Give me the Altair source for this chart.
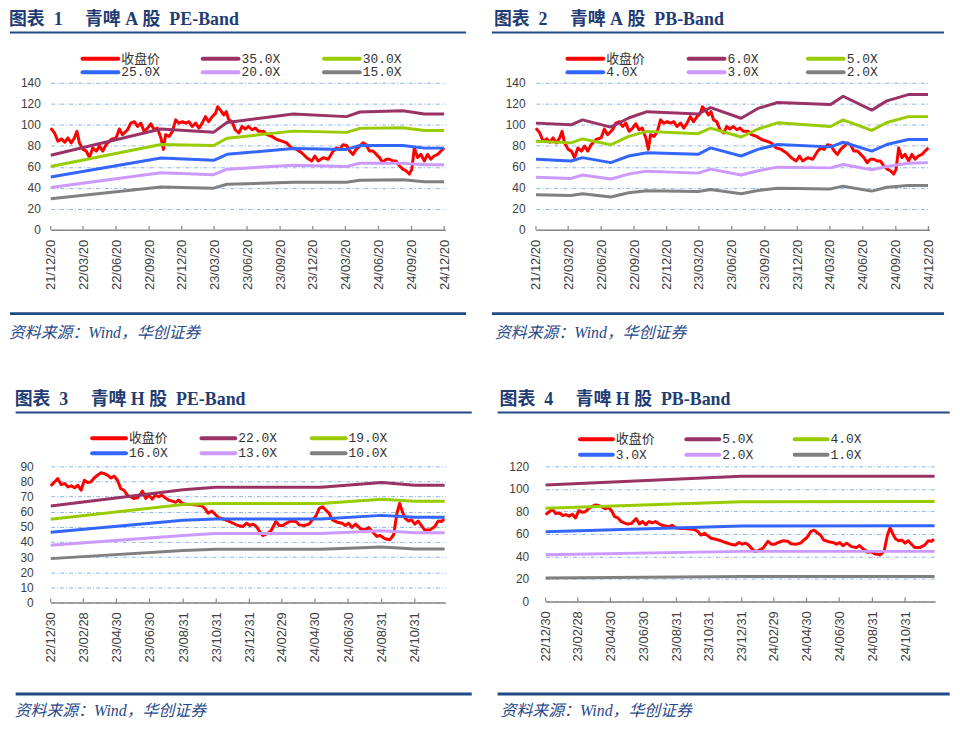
import altair as alt
import pandas as pd

# ---------------- A shares (panels 1 & 2) ----------------
a_start = "2021-12-20"
a_end = "2024-12-23"
a_ticks = ["2021-12-20", "2022-03-20", "2022-06-20", "2022-09-20", "2022-12-20",
           "2023-03-20", "2023-06-20", "2023-09-20", "2023-12-20", "2024-03-20",
           "2024-06-20", "2024-09-20", "2024-12-20"]

# closing price: days after a_start, value
a_price_day = [0, 11, 20, 30, 39, 48, 57, 66, 73, 80,
               90, 99, 108, 117, 127, 136, 145, 154, 168, 182,
               191, 200, 214, 223, 233, 242, 251, 260, 270, 279,
               288, 297, 307, 314, 320, 330, 339, 348, 357, 367,
               376, 385, 394, 404, 413, 422, 431, 440, 450, 459,
               465, 473, 482, 489, 496, 505, 514, 524, 533, 542,
               551, 561, 570, 579, 593, 602, 616, 630, 644, 657,
               671, 685, 699, 713, 727, 736, 745, 759, 773, 787,
               796, 805, 814, 824, 833, 842, 851, 861, 870, 879,
               888, 898, 907, 916, 925, 934, 944, 953, 962, 971,
               981, 990, 999, 1006, 1013, 1022, 1031, 1041, 1050, 1059,
               1068, 1078, 1087, 1096]
a_price = [96.9, 92, 84.4, 86.6, 83.4, 87.5, 82.8, 87.5, 93.8, 82.8,
           76.6, 75, 68.75, 78, 75, 79.7, 75, 81, 86, 87.5,
           96, 90.6, 95.3, 101.6, 103, 98.4, 101.6, 93.8, 96.9, 101,
           95.3, 96.9, 87.5, 76.6, 90.6, 89, 93.8, 104.7, 101.6, 103,
           101.6, 103, 98.4, 101.6, 96.9, 101.6, 107.8, 103, 107.8, 110.9,
           117.2, 114, 109.4, 112.5, 104.7, 103, 95.3, 92.2, 98.4, 96,
           98.4, 95.3, 96.9, 93.8, 93.8, 90.6, 89, 86, 84.4, 82.8,
           78, 76.6, 73.4, 68.75, 65.6, 70.3, 65.6, 68.75, 67.2, 75,
           78, 76.6, 81, 80.3, 75, 71.9, 76.6, 79.7, 82.8, 81,
           75, 75, 71.9, 68.75, 64, 67.2, 67.2, 65.6, 65.6, 61,
           57.8, 56.25, 53.1, 57.8, 78, 68.75, 71.9, 65.6, 71.9, 67.2,
           70.3, 71.9, 75, 78]

# PE bands
a_pe_day = [0, 307, 454, 491, 676, 824, 861, 981, 1041, 1096]
a_pe_35 = [71, 96, 93, 102.2, 110.3, 107.8, 112.2, 113.4, 110.3, 110.3]
a_pe_30 = [60.3, 81.25, 80.3, 87.2, 94, 92.8, 96.6, 97.2, 94.5, 94.5]
a_pe_25 = [50.3, 68.4, 66.25, 71.9, 77.5, 76.6, 80.3, 80.3, 77.8, 77.8]
a_pe_20 = [40.3, 54.4, 52.5, 57.8, 61.6, 60.3, 63.4, 63.4, 61.9, 61.9]
a_pe_15 = [29.7, 40.9, 39.7, 43.4, 45.3, 45.3, 47.2, 47.8, 45.9, 45.9]

# PB bands
a_pb_day = [0, 98, 130, 209, 259, 310, 453, 488, 573, 620, 675, 823, 858, 938, 980, 1040, 1095]
a_pb_6 = [101.6, 100, 104.7, 97.8, 106.5, 112.5, 110.3, 116.3, 106.25, 115.6, 121.25, 119.4, 127.2, 114, 122.8, 128.75, 128.75]
a_pb_5 = [84.4, 82.8, 86.6, 81, 89, 93.75, 91.6, 96.9, 88.4, 96, 101.9, 98.4, 104.7, 94.7, 102.2, 107.8, 107.8]
a_pb_4 = [67.2, 65.6, 68.75, 64, 70.3, 73.4, 71.9, 78, 70.3, 76.6, 81.25, 79, 83.4, 75, 81.25, 86, 86]
a_pb_3 = [50, 49, 52.2, 48.4, 53.1, 55.9, 54, 57.8, 52.2, 56.25, 59.7, 59, 62.2, 57.2, 60.3, 63.4, 64]
a_pb_2 = [33.4, 32.8, 34.4, 31.25, 35.3, 37.2, 36.6, 38.4, 34.4, 37.5, 39.7, 39, 41.6, 36.9, 40.6, 42.2, 42.2]

# ---------------- H shares (panels 3 & 4) ----------------
h_start = "2022-12-30"
h_end = "2024-12-26"
h_ticks = ["2022-12-30", "2023-02-28", "2023-04-30", "2023-06-30", "2023-08-31",
           "2023-10-31", "2023-12-31", "2024-02-29", "2024-04-30", "2024-06-30",
           "2024-08-31", "2024-10-31"]

h_price_day = [0, 7, 13, 19, 26, 32, 38, 44, 50, 56,
               62, 68, 74, 80, 86, 93, 99, 105, 111, 117,
               123, 129, 135, 141, 147, 153, 160, 166, 169, 175,
               181, 187, 193, 199, 205, 211, 217, 224, 230, 236,
               242, 251, 260, 269, 278, 284, 290, 297, 303, 309,
               318, 327, 336, 345, 354, 361, 367, 373, 379, 385,
               391, 397, 406, 415, 421, 428, 434, 443, 452, 458,
               467, 476, 482, 488, 495, 501, 507, 513, 519, 528,
               537, 543, 549, 555, 562, 571, 580, 586, 595, 601,
               607, 616, 625, 632, 638, 643, 647, 653, 659, 665,
               671, 677, 683, 689, 699, 708, 714, 720, 725]
h_price = [77.1, 79.7, 81.9, 78, 78.6, 76.4, 77.1, 75.8, 77.5, 74.2,
           80.8, 79.3, 79.7, 82.3, 84.1, 85.8, 85.2, 84.1, 82.3, 83.6,
           80.8, 75.3, 74.2, 71, 69.9, 68.8, 69.2, 72, 73.6, 68.8,
           71, 68.3, 71, 69.9, 71, 69.2, 67.7, 67, 66.2, 67.7,
           65.5, 64.8, 64.8, 64.4, 64, 62.2, 59, 60.5, 58.3, 56.1,
           55.2, 53.9, 52.4, 50.9, 50.2, 52.4, 50.9, 51.8, 50.2, 46.9,
           44.3, 45.2, 47.4, 53.5, 50.9, 50.9, 52.4, 53.9, 53.5, 51.3,
           50.9, 51.8, 54.6, 56.8, 62.2, 63.3, 61.1, 59, 54.6, 53.1,
           52.4, 50.9, 52.4, 49.6, 51.8, 48.7, 48, 49.6, 45.9, 43.7,
           44.3, 42.1, 41.5, 44.8, 59, 65.5, 61.1, 55.7, 53.9, 54.6,
           51.8, 53.9, 50.9, 48, 48, 50.2, 53.9, 53.5, 55.2]

h_pe_day = [0, 244, 304, 498, 610, 671, 726]
h_pe_22 = [63.75, 74.5, 76.2, 76.2, 79.3, 77.5, 77.5]
h_pe_19 = [55, 64.8, 65.5, 65.5, 68.3, 67, 67]
h_pe_16 = [46.5, 54.4, 55.2, 55.2, 57.6, 56.3, 56.3]
h_pe_13 = [37.8, 44.3, 45.6, 45.6, 47.4, 46.1, 46.1]
h_pe_10 = [29, 34.3, 35.2, 35.2, 36.7, 35.4, 35.4]

h_pb_day = [0, 366, 726]
h_pb_5 = [103.5, 111.2, 111.2]
h_pb_4 = [82.9, 88.5, 88.8]
h_pb_3 = [62, 67, 67.3]
h_pb_2 = [41.6, 44.5, 44.5]
h_pb_1 = [20.9, 22.1, 22.1]

names_1 = ["收盘价", "35.0X", "30.0X", "25.0X", "20.0X", "15.0X"]
names_2 = ["收盘价", "6.0X", "5.0X", "4.0X", "3.0X", "2.0X"]
names_3 = ["收盘价", "22.0X", "19.0X", "16.0X", "13.0X", "10.0X"]
names_4 = ["收盘价", "5.0X", "4.0X", "3.0X", "2.0X", "1.0X"]

titles = ["图表\u00a0\u00a01\u00a0\u00a0\u00a0\u00a0\u00a0青啤\u00a0A\u00a0股\u00a0\u00a0PE-Band",
          "图表\u00a0\u00a02\u00a0\u00a0\u00a0\u00a0\u00a0青啤\u00a0A\u00a0股\u00a0\u00a0PB-Band",
          "图表\u00a0\u00a03\u00a0\u00a0\u00a0\u00a0\u00a0青啤\u00a0H\u00a0股\u00a0\u00a0PE-Band",
          "图表\u00a0\u00a04\u00a0\u00a0\u00a0\u00a0\u00a0青啤\u00a0H\u00a0股\u00a0\u00a0PB-Band"]
source_text = "资料来源：Wind，华创证券"

colors = ["#FF0000", "#993366", "#99CC00", "#3366FF", "#CC99FF", "#808080"]

NAVY = "#1F3C73"
RULE = "#1F4A86"
SRC = "#27498A"
TITLE_FONT = "Liberation Serif, Noto Sans CJK SC"
LEG_FONT = "Liberation Mono, Noto Sans CJK SC"
AXIS_FONT = "Liberation Sans"


def to_dates(start, days):
    return pd.Timestamp(start) + pd.to_timedelta(days, unit="D")


def dt(s):
    t = pd.Timestamp(s)
    return alt.DateTime(year=t.year, month=t.month, date=t.day)


def make_panel(title, names, start, end, ticks, price_day, price, band_day, bands,
               ymax, ystep, W, H, lay):
    cscale = alt.Scale(domain=names, range=colors)
    price_df = pd.DataFrame({"date": to_dates(start, price_day), "value": price})
    rows = []
    for nm, vals in zip(names[1:], bands):
        for d, v in zip(to_dates(start, band_day), vals):
            rows.append({"date": d, "value": v, "series": nm})
    band_df = pd.DataFrame(rows)
    tick_df = pd.DataFrame({"date": pd.to_datetime(ticks)})

    xaxis = alt.Axis(values=[dt(t) for t in ticks], format="%y/%m/%d",
                     labelAngle=270, labelFont=AXIS_FONT, labelFontSize=13,
                     labelColor="#404040", labelPadding=lay["xpad"],
                     labelOverlap=False, labelFlush=False, labelBound=False,
                     ticks=False, tickSize=0, grid=False,
                     domainColor="#868686", domainWidth=1.5)
    yaxis = alt.Axis(values=list(range(0, ymax + 1, ystep)),
                     labelFont=AXIS_FONT, labelFontSize=12,
                     labelColor="#404040", labelPadding=lay["ypad"],
                     labelOverlap=False, labelBound=False,
                     domain=False, ticks=False, tickSize=0,
                     grid=True, gridColor="#8DB4E2", gridDash=[4, 2, 1, 2],
                     gridWidth=1)
    xscale = alt.Scale(domain=[dt(start), dt(end)])
    yscale = alt.Scale(domain=[0, ymax], nice=False, zero=True)

    def xenc():
        return alt.X("date:T", title=None, scale=xscale, axis=xaxis)

    def yenc():
        return alt.Y("value:Q", title=None, scale=yscale, axis=yaxis)

    price_layer = alt.Chart(price_df).mark_line(
        color="#FF0000", strokeWidth=3, strokeJoin="round").encode(x=xenc(), y=yenc())
    band_layer = alt.Chart(band_df).mark_line(strokeWidth=3, strokeJoin="round").encode(
        x=xenc(), y=yenc(),
        color=alt.Color("series:N", scale=cscale, legend=None))
    tick_layer = alt.Chart(tick_df).mark_rule(color="#868686", strokeWidth=1.2).encode(
        x=xenc(), y=alt.value(H), y2=alt.value(H - 4))

    leg = pd.DataFrame({"name": names})
    leg["lx"] = [lay["cols"][i % 3] for i in range(len(names))]
    leg["lx2"] = leg["lx"] + lay["sample"]
    leg["tx"] = leg["lx"] + lay["gap"]
    leg["ly"] = [lay["rows"][i // 3] for i in range(len(names))]
    leg_rule = alt.Chart(leg).mark_rule(strokeWidth=4, strokeCap="round").encode(
        x=alt.X("lx:Q", scale=None, axis=None), x2="lx2:Q",
        y=alt.Y("ly:Q", scale=None, axis=None),
        color=alt.Color("name:N", scale=cscale, legend=None))
    leg_text = alt.Chart(leg).mark_text(
        align="left", baseline="middle", font=LEG_FONT, fontSize=13, color="#333333").encode(
        x=alt.X("tx:Q", scale=None, axis=None),
        y=alt.Y("ly:Q", scale=None, axis=None),
        text="name:N")

    one = pd.DataFrame({"k": [0]})
    title_layer = alt.Chart(one).mark_text(
        align="left", baseline="middle", font=TITLE_FONT, fontSize=18,
        fontWeight="bold", color=NAVY).encode(
        x=alt.value(lay["tx"]), y=alt.value(lay["ty"]), text=alt.value(title))
    rule_top = alt.Chart(one).mark_rule(color=RULE, strokeWidth=2).encode(
        x=alt.value(lay["rx1"]), x2=alt.value(lay["rx2"]), y=alt.value(lay["ry1"]))
    rule_bot = alt.Chart(one).mark_rule(color=RULE, strokeWidth=3).encode(
        x=alt.value(lay["rx1"]), x2=alt.value(lay["rx2"]), y=alt.value(lay["ry2"]))
    src_layer = alt.Chart(one).mark_text(
        align="left", baseline="middle", font=TITLE_FONT, fontSize=16,
        fontStyle="italic", color=SRC).encode(
        x=alt.value(lay["sx"]), y=alt.value(lay["sy"]), text=alt.value(source_text))

    return alt.layer(price_layer, band_layer, tick_layer, leg_rule, leg_text,
                     title_layer, rule_top, rule_bot, src_layer).properties(width=W, height=H)


lay1 = dict(tx=-42, ty=-63.5, rx1=-41, rx2=418, ry1=-50.5, ry2=232.3, sx=-42, sy=251.5,
            cols=[32, 153, 275], rows=[-24.3, -10.7], sample=36, gap=39, xpad=9.5, ypad=10.5)
lay2 = dict(tx=-42.3, ty=-63.5, rx1=-44.3, rx2=410.7, ry1=-50.5, ry2=232.3, sx=-41.3, sy=251.5,
            cols=[31.7, 153.7, 273.7], rows=[-24.3, -10.7], sample=36, gap=39, xpad=9.5, ypad=11)
lay3 = dict(tx=-36.3, ty=-66.9, rx1=-35.3, rx2=423.7, ry1=-54.3, ry2=229, sx=-36.3, sy=246.2,
            cols=[41.7, 151.7, 262.7], rows=[-28.3, -13.3], sample=34, gap=37, xpad=9.3, ypad=17.6)
lay4 = dict(tx=-46.3, ty=-66.9, rx1=-48.3, rx2=406.7, ry1=-54.3, ry2=229, sx=-45.3, sy=246.2,
            cols=[34.7, 141.7, 250.7], rows=[-27.3, -11.6], sample=33, gap=36, xpad=9.3, ypad=17)

p1 = make_panel(titles[0], names_1, a_start, a_end, a_ticks, a_price_day, a_price,
                a_pe_day, [a_pe_35, a_pe_30, a_pe_25, a_pe_20, a_pe_15], 140, 20, 397, 148, lay1)
p2 = make_panel(titles[1], names_2, a_start, a_end, a_ticks, a_price_day, a_price,
                a_pb_day, [a_pb_6, a_pb_5, a_pb_4, a_pb_3, a_pb_2], 140, 20, 396, 148, lay2)
p3 = make_panel(titles[2], names_3, h_start, h_end, h_ticks, h_price_day, h_price,
                h_pe_day, [h_pe_22, h_pe_19, h_pe_16, h_pe_13, h_pe_10], 90, 10, 397, 137, lay3)
p4 = make_panel(titles[3], names_4, h_start, h_end, h_ticks, h_price_day, h_price,
                h_pb_day, [h_pb_5, h_pb_4, h_pb_3, h_pb_2, h_pb_1], 120, 20, 392, 136, lay4)

row1 = alt.hconcat(p1, p2, spacing=91.3, bounds="flush").resolve_scale(color="independent")
row2 = alt.hconcat(p3, p4, spacing=101, bounds="flush").resolve_scale(color="independent")
chart = alt.vconcat(row1, row2, spacing=50, bounds="full").resolve_scale(
    color="independent").properties(padding=0, background="white").configure_view(
    stroke=None).configure_axis(labelOverlap=False)

chart.save("out.html", embed_options={"renderer": "svg", "actions": False})
